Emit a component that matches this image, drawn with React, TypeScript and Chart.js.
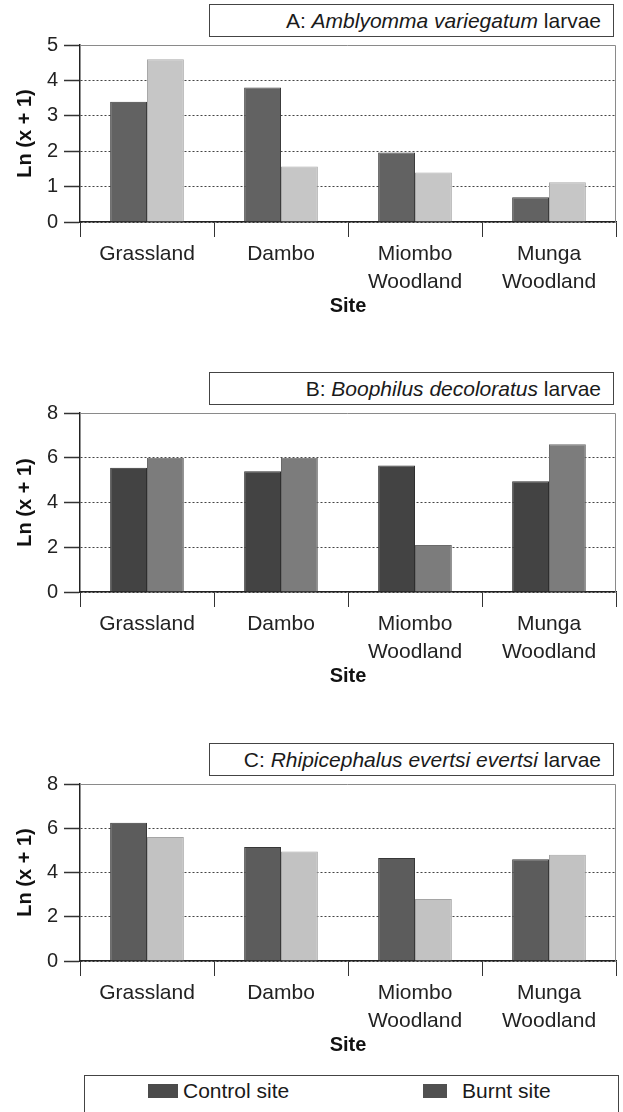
import React, { useEffect, useRef } from "react";
import { Chart, registerables } from "chart.js";

Chart.register(...registerables);

const categories: string[][] = [["Grassland"], ["Dambo"], ["Miombo", "Woodland"], ["Munga", "Woodland"]];
const seriesNames = ["Control site", "Burnt site"];

const controlA = [3.4, 3.8, 1.96, 0.7];
const burntA = [4.6, 1.57, 1.4, 1.12];
const controlB = [5.55, 5.4, 5.65, 4.95];
const burntB = [6.0, 6.0, 2.1, 6.6];
const controlC = [6.25, 5.15, 4.65, 4.6];
const burntC = [5.6, 4.95, 2.8, 4.8];

const yMaxA = 5;
const yStepA = 1;
const yMaxB = 8;
const yStepB = 2;
const yMaxC = 8;
const yStepC = 2;

const yAxisTitle = "Ln (x + 1)";
const xAxisTitle = "Site";

const FONT = "'Liberation Sans', Arial, Helvetica, sans-serif";

const framePlugin = {
  id: "frame",
  beforeDatasetsDraw(chart: any) {
    const { ctx, chartArea } = chart;
    ctx.save();
    ctx.strokeStyle = "#8a8a8a";
    ctx.lineWidth = 1;
    ctx.setLineDash([]);
    ctx.beginPath();
    ctx.moveTo(chartArea.left, chartArea.top + 0.5);
    ctx.lineTo(chartArea.right - 0.5, chartArea.top + 0.5);
    ctx.lineTo(chartArea.right - 0.5, chartArea.bottom);
    ctx.stroke();
    ctx.restore();
  },
};

type PanelProps = {
  chartTop: number;
  zero: number;
  boxTop: number;
  yMax: number;
  yStep: number;
  control: number[];
  burnt: number[];
  controlColor: string;
  burntColor: string;
  controlBorder: string;
  burntBorder: string;
  letter: string;
  species: string;
};

function Panel(p: PanelProps) {
  const ref = useRef<HTMLCanvasElement>(null);
  const padTop = 20;
  const xAxisH = 101;
  const canvasTop = p.chartTop - padTop;
  const canvasH = padTop + (p.zero - p.chartTop) + xAxisH;

  useEffect(() => {
    if (!ref.current) return;
    const chart = new Chart(ref.current, {
      type: "bar",
      data: {
        labels: categories,
        datasets: [
          {
            label: seriesNames[0],
            data: p.control,
            backgroundColor: p.controlColor,
            borderColor: p.controlBorder,
            borderWidth: 1,
            categoryPercentage: 0.55,
            barPercentage: 1.0,
          },
          {
            label: seriesNames[1],
            data: p.burnt,
            backgroundColor: p.burntColor,
            borderColor: p.burntBorder,
            borderWidth: 1,
            categoryPercentage: 0.55,
            barPercentage: 1.0,
          },
        ],
      },
      options: {
        responsive: false,
        animation: false,
        devicePixelRatio: 1,
        layout: { padding: { top: padTop, right: 7, left: 0, bottom: 0 } },
        plugins: {
          legend: { display: false },
          tooltip: { enabled: false },
        },
        scales: {
          x: {
            afterFit: (s: any) => {
              s.height = xAxisH;
            },
            grid: {
              display: true,
              offset: true,
              drawOnChartArea: false,
              drawTicks: true,
              tickLength: 15,
              tickColor: "#333",
              color: "#333",
              lineWidth: 1,
            },
            border: { display: true, color: "#222", width: 1.5 },
            ticks: {
              color: "#222",
              font: { family: FONT, size: 21, lineHeight: 1.3 },
              padding: 4,
              maxRotation: 0,
              autoSkip: false,
            },
            title: {
              display: true,
              text: xAxisTitle,
              color: "#111",
              font: { family: FONT, size: 20, weight: "bold", lineHeight: 1.2 },
              padding: { top: 0, bottom: 5 },
            },
          },
          y: {
            min: 0,
            max: p.yMax,
            afterFit: (s: any) => {
              s.width = 80;
            },
            grid: {
              display: true,
              drawOnChartArea: true,
              drawTicks: true,
              tickLength: 16,
              color: "#444",
              tickColor: "#333",
              tickBorderDash: [],
              lineWidth: 1,
              tickWidth: 1.5,
            },
            border: { display: true, color: "#222", width: 1.5, dash: [2, 2] },
            ticks: {
              stepSize: p.yStep,
              color: "#222",
              font: { family: FONT, size: 20 },
              padding: 6,
            },
            title: {
              display: true,
              text: yAxisTitle,
              color: "#111",
              font: { family: FONT, size: 20, weight: "bold", lineHeight: 1.2 },
              padding: { top: 13, bottom: 0 },
            },
          },
        },
      },
      plugins: [framePlugin],
    } as any);
    return () => chart.destroy();
  }, []);

  return (
    <>
      <canvas
        ref={ref}
        width={623}
        height={canvasH}
        style={{ position: "absolute", left: 0, top: canvasTop, width: 623, height: canvasH }}
      />
      <div
        style={{
          position: "absolute",
          left: 209,
          top: p.boxTop,
          width: 405,
          height: 33,
          boxSizing: "border-box",
          border: "1px solid #444",
          background: "#fff",
          fontFamily: FONT,
          fontSize: 21,
          color: "#1a1a1a",
          textAlign: "right",
          paddingRight: 12,
          lineHeight: "31px",
          whiteSpace: "nowrap",
        }}
      >
        {p.letter}: <i>{p.species}</i> larvae
      </div>
    </>
  );
}

export default function App() {
  return (
    <div style={{ position: "absolute", left: 0, top: 0, width: 623, height: 1112, background: "#fff", overflow: "hidden" }}>
      <Panel
        chartTop={45}
        zero={222}
        boxTop={4}
        yMax={yMaxA}
        yStep={yStepA}
        control={controlA}
        burnt={burntA}
        controlColor="#626262"
        burntColor="#c6c6c6"
        controlBorder="#3c3c3c"
        burntBorder="#a8a8a8"
        letter="A"
        species="Amblyomma variegatum"
      />
      <Panel
        chartTop={413}
        zero={592}
        boxTop={372}
        yMax={yMaxB}
        yStep={yStepB}
        control={controlB}
        burnt={burntB}
        controlColor="#434343"
        burntColor="#7c7c7c"
        controlBorder="#2e2e2e"
        burntBorder="#6a6a6a"
        letter="B"
        species="Boophilus decoloratus"
      />
      <Panel
        chartTop={784}
        zero={961}
        boxTop={743}
        yMax={yMaxC}
        yStep={yStepC}
        control={controlC}
        burnt={burntC}
        controlColor="#5c5c5c"
        burntColor="#c2c2c2"
        controlBorder="#383838"
        burntBorder="#a5a5a5"
        letter="C"
        species="Rhipicephalus evertsi evertsi"
      />
      <div
        style={{
          position: "absolute",
          left: 84,
          top: 1075,
          width: 535,
          height: 50,
          boxSizing: "border-box",
          border: "1px solid #444",
          fontFamily: FONT,
          fontSize: 21,
          color: "#1a1a1a",
        }}
      >
        <div style={{ position: "absolute", left: 148 - 85, top: 8, width: 30, height: 14, background: "#4b4b4b" }} />
        <div style={{ position: "absolute", left: 183 - 85, top: 1, lineHeight: "28px", whiteSpace: "nowrap" }}>{seriesNames[0]}</div>
        <div style={{ position: "absolute", left: 423 - 85, top: 8, width: 24, height: 14, background: "#505050" }} />
        <div style={{ position: "absolute", left: 462 - 85, top: 1, lineHeight: "28px", whiteSpace: "nowrap" }}>{seriesNames[1]}</div>
      </div>
    </div>
  );
}
